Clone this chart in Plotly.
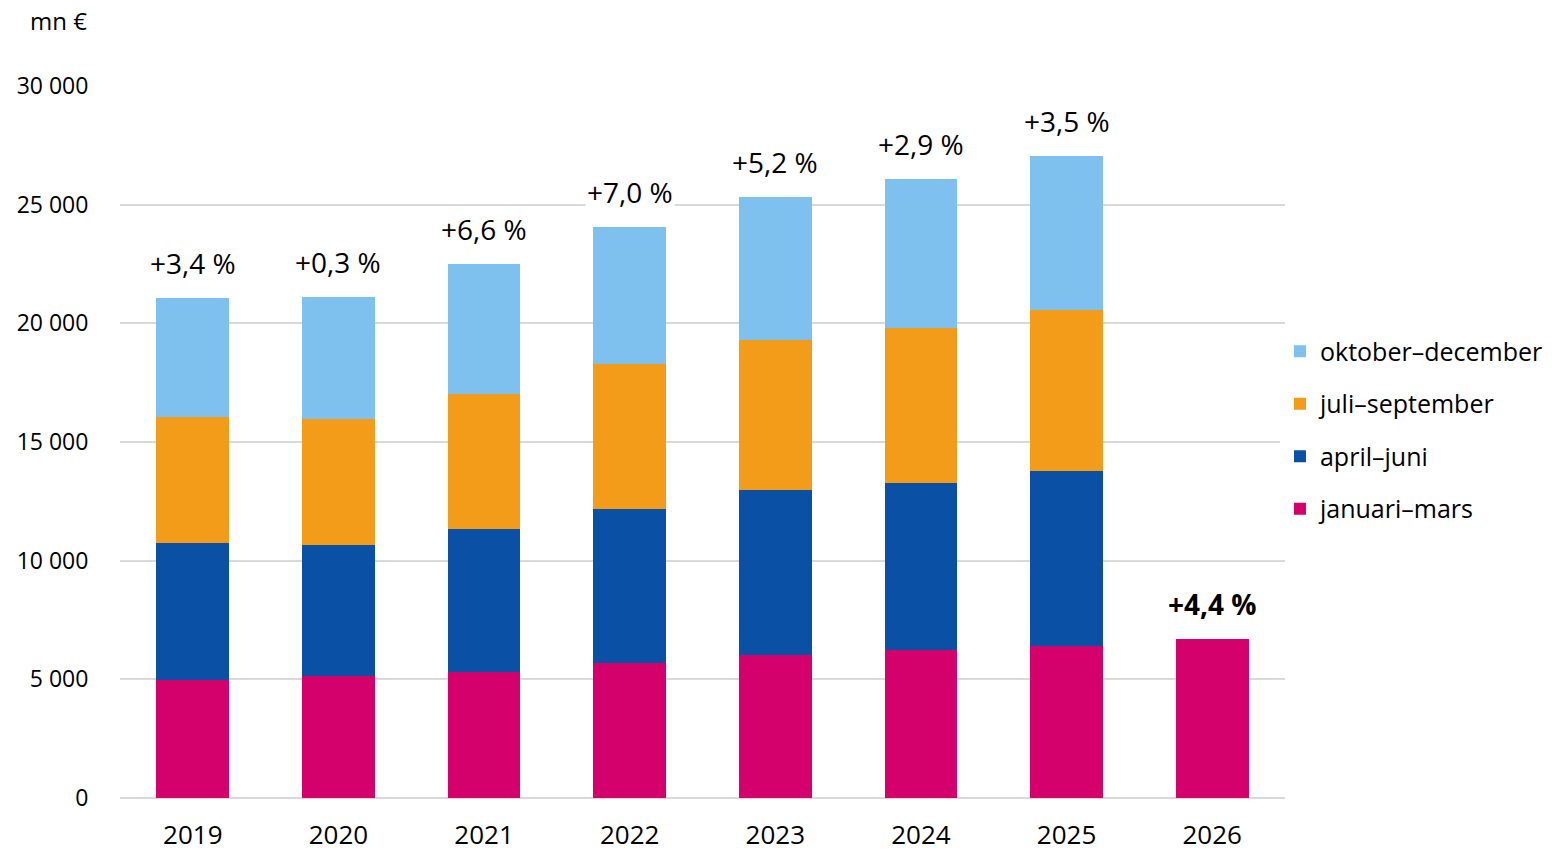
import plotly.graph_objects as go

years = ["2019", "2020", "2021", "2022", "2023", "2024", "2025", "2026"]
jan_mar = [4970, 5140, 5310, 5690, 6030, 6240, 6410, 6700]
apr_jun = [5780, 5520, 6030, 6490, 6950, 7040, 7380, None]
jul_sep = [5310, 5310, 5690, 6110, 6320, 6530, 6790, None]
okt_dec = [5010, 5140, 5480, 5770, 6030, 6280, 6450, None]
growth = ["+3,4 %", "+0,3 %", "+6,6 %", "+7,0 %", "+5,2 %", "+2,9 %", "+3,5 %", "+4,4 %"]

series = [
    ("januari–mars", jan_mar, "#d4006b", 4),
    ("april–juni", apr_jun, "#0a50a5", 3),
    ("juli–september", jul_sep, "#f39c1a", 2),
    ("oktober–december", okt_dec, "#7fc1ee", 1),
]

FONT = "Open Sans"
fig = go.Figure()
for name, vals, col, rank in series:
    fig.add_trace(go.Bar(x=years, y=vals, name=name, legendgroup=name, legendrank=rank,
                         marker=dict(color=col, line=dict(width=0))))

totals = []
for i in range(len(years)):
    totals.append(sum(v[i] for _, v, _, _ in series if v[i] is not None))

for i, (yr, t, g) in enumerate(zip(years, totals, growth)):
    txt = f"<b>{g}</b>" if i == len(years) - 1 else g
    fig.add_annotation(x=i, y=t, text=txt, showarrow=False, yanchor="bottom", yshift=14,
                       font=dict(size=28, color="#000000", family=FONT),
                       bgcolor="white")

fig.add_annotation(xref="paper", yref="paper", x=-0.0532, y=1.0, yshift=66, text="mn €",
                   showarrow=False, xanchor="center", yanchor="middle",
                   font=dict(size=24, color="#000000", family=FONT))

fig.update_layout(
    barmode="stack",
    bargap=0.5,
    width=1551, height=843,
    margin=dict(l=112, r=274, t=78, b=53, autoexpand=False),
    plot_bgcolor="white", paper_bgcolor="white",
    font=dict(family=FONT, color="#000000"),
    legend=dict(traceorder="grouped", xref="container", x=0.8201, xanchor="left",
                y=0.517, yanchor="middle",
                font=dict(size=25, family=FONT), tracegroupgap=17),
    xaxis=dict(type="category", range=[-0.5, len(years) - 0.5], automargin=False,
               tickfont=dict(size=26, family=FONT), showline=False,
               ticks="outside", ticklen=14, tickcolor="rgba(0,0,0,0)"),
    yaxis=dict(range=[0, 30000], automargin=False,
               tickvals=[0, 5000, 10000, 15000, 20000, 25000, 30000],
               ticktext=["0", "5 000", "10 000", "15 000", "20 000", "25 000", "30 000"],
               tickfont=dict(size=23, family=FONT), gridcolor="#d9d9d9", gridwidth=1.5,
               zeroline=True, zerolinecolor="#d9d9d9", zerolinewidth=1.5, ticks="outside",
               ticklen=26, tickcolor="rgba(0,0,0,0)", showline=False),
)

fig.write_html("out.html")
